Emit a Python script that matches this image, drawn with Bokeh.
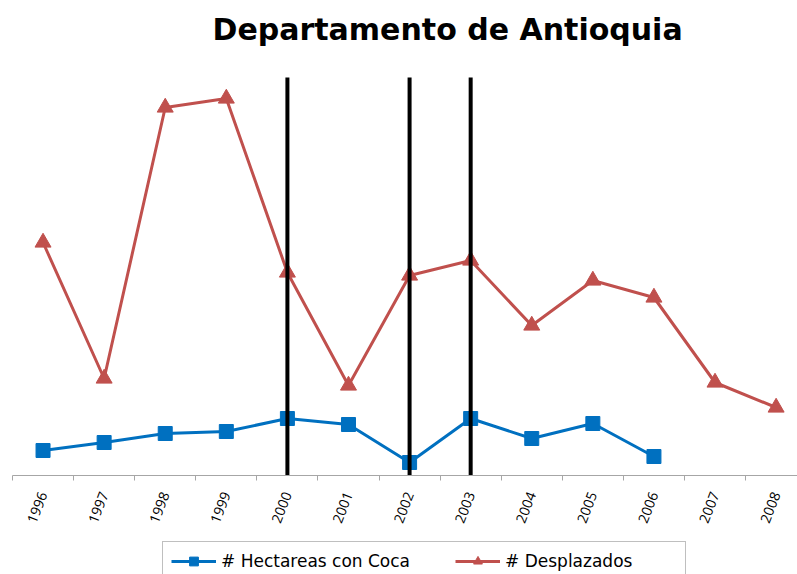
from bokeh.plotting import figure
from bokeh.layouts import column
from bokeh.models import FixedTicker, Legend, LegendItem, Range1d
from bokeh.embed import file_html
from bokeh.resources import INLINE

years = [1996, 1997, 1998, 1999, 2000, 2001, 2002, 2003, 2004, 2005, 2006, 2007, 2008]
desplazados = [58.25, 24.25, 92.0, 94.25, 50.75, 22.5, 50.0, 53.75, 37.5, 48.75, 44.5, 23.25, 17.0]
hectareas_years = [1996, 1997, 1998, 1999, 2000, 2001, 2002, 2003, 2004, 2005, 2006]
hectareas = [6.25, 8.25, 10.5, 11.0, 14.25, 12.75, 3.25, 14.25, 9.25, 13.0, 4.75]
event_years = [2000, 2002, 2003]
event_top = 99.5

BLUE = "#0070C0"
RED = "#C0504D"
AXIS = "#A6A6A6"

p = figure(frame_width=785, frame_height=425,
           x_range=Range1d(1995.5, 2008.35), y_range=Range1d(0, 106.25),
           output_backend="svg", toolbar_location=None, y_axis_location=None,
           min_border_left=12, min_border_right=0, min_border_top=50, min_border_bottom=60)
p.grid.visible = False
p.outline_line_color = None

p.title.text = "Departamento de Antioquia"
p.title.align = "left"
p.title.text_font = "DejaVu Sans"
p.title.text_font_style = "bold"
p.title.text_font_size = "30px"
p.title.text_color = "black"
p.title.offset = 200
p.title.standoff = 8

ax = p.xaxis[0]
ax.ticker = FixedTicker(ticks=years, minor_ticks=[y - 0.5 for y in years] + [2008.5])
ax.major_label_overrides = {y: str(y) for y in years}
ax.major_tick_out = 0
ax.major_tick_in = 0
ax.minor_tick_out = 5
ax.minor_tick_in = 0
ax.axis_line_color = AXIS
ax.minor_tick_line_color = AXIS
ax.major_label_orientation = 1.2
ax.major_label_standoff = 12
ax.major_label_text_font = "Open Sans"
ax.major_label_text_font_size = "14px"
ax.major_label_text_color = "black"

p.line(hectareas_years, hectareas, color=BLUE, line_width=3)
p.scatter(hectareas_years, hectareas, marker="square", size=14, color=BLUE)
p.line(years, desplazados, color=RED, line_width=3)
p.scatter(years, desplazados, marker="triangle", size=16, color=RED)

p.segment(x0=event_years, y0=[0] * len(event_years), x1=event_years,
          y1=[event_top] * len(event_years), line_width=4, color="black")

# legend strip below the chart (its series lie outside its own ranges, so only the key shows)
lg = figure(width=797, height=39, x_range=Range1d(0, 1), y_range=Range1d(0, 1),
            output_backend="svg", toolbar_location=None,
            x_axis_location=None, y_axis_location=None, min_border=0)
lg.grid.visible = False
lg.outline_line_color = None
lbl = lg.line(hectareas_years, hectareas, color=BLUE, line_width=3)
lbm = lg.scatter(hectareas_years, hectareas, marker="square", size=14, color=BLUE)
lrl = lg.line(years, desplazados, color=RED, line_width=3)
lrm = lg.scatter(years, desplazados, marker="triangle", size=16, color=RED)

legend = Legend(items=[LegendItem(label="# Hectareas con Coca", renderers=[lbl, lbm]),
                       LegendItem(label="# Desplazados", renderers=[lrl, lrm])],
                orientation="horizontal", location=(150, -7))
legend.border_line_color = "#808080"
legend.border_line_width = 1.5
legend.label_text_font = "DejaVu Sans"
legend.label_text_font_size = "17px"
legend.label_text_color = "black"
legend.glyph_width = 45
legend.glyph_height = 22
legend.label_standoff = 5
legend.label_width = 172
legend.spacing = 45
legend.padding = 8
legend.margin = 0
lg.add_layout(legend, "center")

layout = column(p, lg, spacing=0)
open("out.html", "w").write(file_html(layout, INLINE))
